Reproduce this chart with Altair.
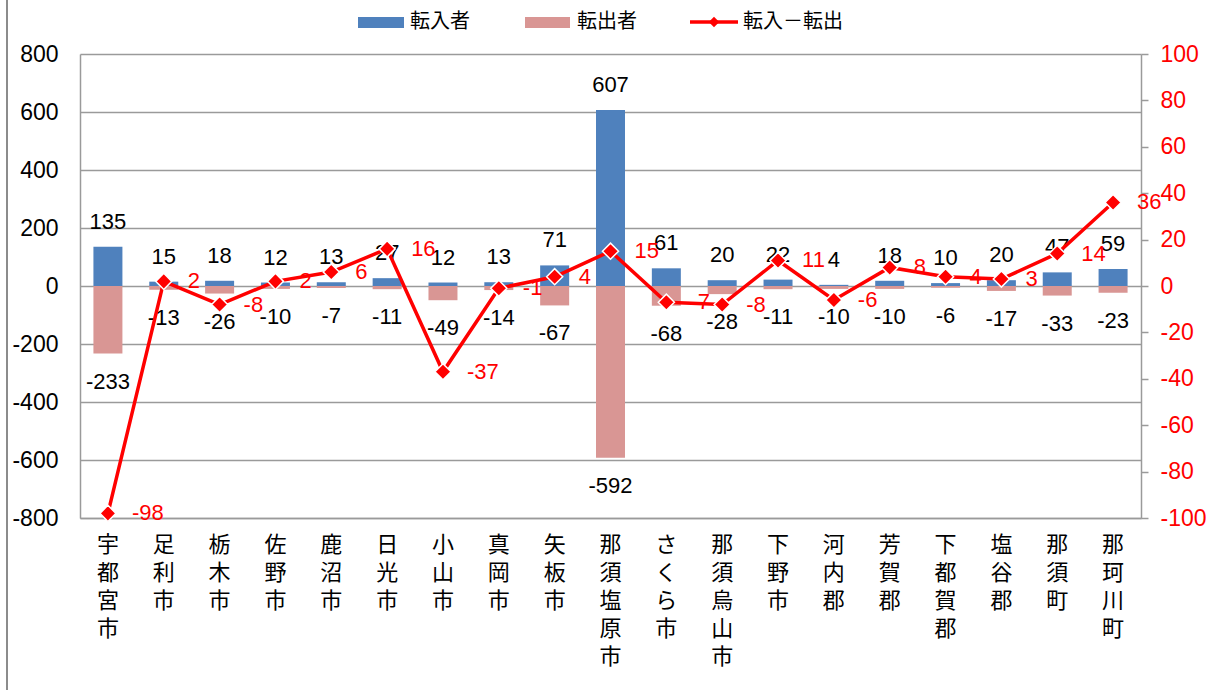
import altair as alt
import pandas as pd

regions = ["宇都宮市", "足利市", "栃木市", "佐野市", "鹿沼市", "日光市", "小山市", "真岡市",
           "矢板市", "那須塩原市", "さくら市", "那須烏山市", "下野市", "河内郡", "芳賀郡",
           "下都賀郡", "塩谷郡", "那須町", "那珂川町"]
inflow = [135, 15, 18, 12, 13, 27, 12, 13, 71, 607, 61, 20, 22, 4, 18, 10, 20, 47, 59]
outflow = [-233, -13, -26, -10, -7, -11, -49, -14, -67, -592, -68, -28, -11, -10, -10, -6, -17, -33, -23]
net = [-98, 2, -8, 2, 6, 16, -37, -1, 4, 15, -7, -8, 11, -6, 8, 4, 3, 14, 36]
left_ticks = [-800, -600, -400, -200, 0, 200, 400, 600, 800]
right_ticks = [-100, -80, -60, -40, -20, 0, 20, 40, 60, 80, 100]
legend_labels = ["転入者", "転出者", "転入－転出"]

BLUE = "#4F81BD"
PINK = "#D99694"
RED = "#FF0000"
GRID = "#9a9a9a"
NUMFONT = "Liberation Sans"
JPFONT = "Noto Sans CJK JP"

df = pd.DataFrame({"地域": regions, "転入者": inflow, "転出者": outflow, "差": net})
df["in_s"] = df["転入者"].astype(str)
df["out_s"] = df["転出者"].astype(str)
df["net_s"] = df["差"].astype(str)
one = pd.DataFrame({"k": [0]})

W, H = 1061, 464

xaxis = alt.Axis(labelExpr="split(datum.label, '')", labelAngle=0,
                 labelAlign="center", labelBaseline="top",
                 labelFont=JPFONT, labelFontSize=22, labelLineHeight=28,
                 labelColor="black", ticks=False, domainColor=GRID,
                 domainWidth=1.5, labelPadding=16, grid=False)
xenc = alt.X("地域:N", sort=regions, title=None,
             scale=alt.Scale(paddingInner=0, paddingOuter=0), axis=xaxis)

lscale = alt.Scale(domain=[-800, 800], nice=False, zero=False)
rscale = alt.Scale(domain=[-100, 100], nice=False, zero=False)

laxis = alt.Axis(values=left_ticks, labelExpr="datum.value + ''", grid=True, gridColor=GRID,
                 gridWidth=1.3, ticks=False, domainColor=GRID, domainWidth=1.5,
                 labelFont=NUMFONT, labelFontSize=23, labelColor="black",
                 labelPadding=22, title=None)
raxis = alt.Axis(orient="right", values=right_ticks, labelExpr="datum.value + ''",
                 grid=False, tickSize=7, tickColor=GRID, tickWidth=1.5, domainColor=GRID,
                 domainWidth=1.5, labelFont=NUMFONT, labelFontSize=23,
                 labelColor=RED, labelPadding=12, title=None)

base = alt.Chart(df).encode(x=xenc)

blue = base.mark_bar(size=29, color=BLUE).encode(
    y=alt.Y("転入者:Q", scale=lscale, axis=laxis, title=None), y2=alt.datum(0))
pink = base.mark_bar(size=29, color=PINK).encode(
    y=alt.Y("転出者:Q", scale=lscale, axis=laxis, title=None), y2=alt.datum(0))
blue_t = base.mark_text(baseline="alphabetic", dy=-18, font=NUMFONT, fontSize=22,
                        color="black").encode(
    y=alt.Y("転入者:Q", scale=lscale, axis=laxis, title=None), text="in_s:N")
pink_t = base.mark_text(baseline="alphabetic", dy=35, font=NUMFONT, fontSize=22,
                        color="black").encode(
    y=alt.Y("転出者:Q", scale=lscale, axis=laxis, title=None), text="out_s:N")

left = alt.layer(blue, pink, blue_t, pink_t)

line = base.mark_line(color=RED, strokeWidth=3.5).encode(
    y=alt.Y("差:Q", scale=rscale, axis=raxis, title=None))
pts = base.mark_point(shape="diamond", filled=True, size=260, fill=RED, stroke="white",
                      strokeWidth=1.5, opacity=1).encode(
    y=alt.Y("差:Q", scale=rscale, axis=raxis, title=None))
net_t = base.mark_text(align="left", baseline="middle", dx=24, font=NUMFONT, fontSize=22,
                       color=RED).encode(
    y=alt.Y("差:Q", scale=rscale, axis=raxis, title=None), text="net_s:N")

right = alt.layer(line, pts, net_t)

ob = alt.Chart(one)
border = ob.mark_rule(color="#8c8c8c", strokeWidth=2).encode(
    x=alt.value(-73), y=alt.value(-54), y2=alt.value(636))
lg_blue = ob.mark_rect(color=BLUE).encode(
    x=alt.value(278), x2=alt.value(324), y=alt.value(-37), y2=alt.value(-26))
lg_pink = ob.mark_rect(color=PINK).encode(
    x=alt.value(445), x2=alt.value(490), y=alt.value(-37), y2=alt.value(-26))
lg_line = ob.mark_rule(color=RED, strokeWidth=3.5).encode(
    x=alt.value(610), x2=alt.value(658), y=alt.value(-32))
lg_pt = ob.mark_point(shape="diamond", filled=True, size=110, fill=RED, opacity=1).encode(
    x=alt.value(634), y=alt.value(-32))
lg_t1 = ob.mark_text(align="left", baseline="middle", font=JPFONT, fontSize=20,
                     color="black", text=legend_labels[0]).encode(
    x=alt.value(330), y=alt.value(-32))
lg_t2 = ob.mark_text(align="left", baseline="middle", font=JPFONT, fontSize=20,
                     color="black", text=legend_labels[1]).encode(
    x=alt.value(497), y=alt.value(-32))
lg_t3 = ob.mark_text(align="left", baseline="middle", font=JPFONT, fontSize=20,
                     color="black", text=legend_labels[2]).encode(
    x=alt.value(663), y=alt.value(-32))

deco = alt.layer(border, lg_blue, lg_pink, lg_line, lg_pt, lg_t1, lg_t2, lg_t3)

chart = alt.layer(left, right, deco).resolve_scale(y="independent").properties(
    width=W, height=H,
    autosize=alt.AutoSizeParams(type="none"),
    padding={"left": 80, "top": 54, "right": 77, "bottom": 172},
    background="white",
).configure_view(stroke=None)

chart.save("out.html", embed_options={"renderer": "svg", "actions": False})
